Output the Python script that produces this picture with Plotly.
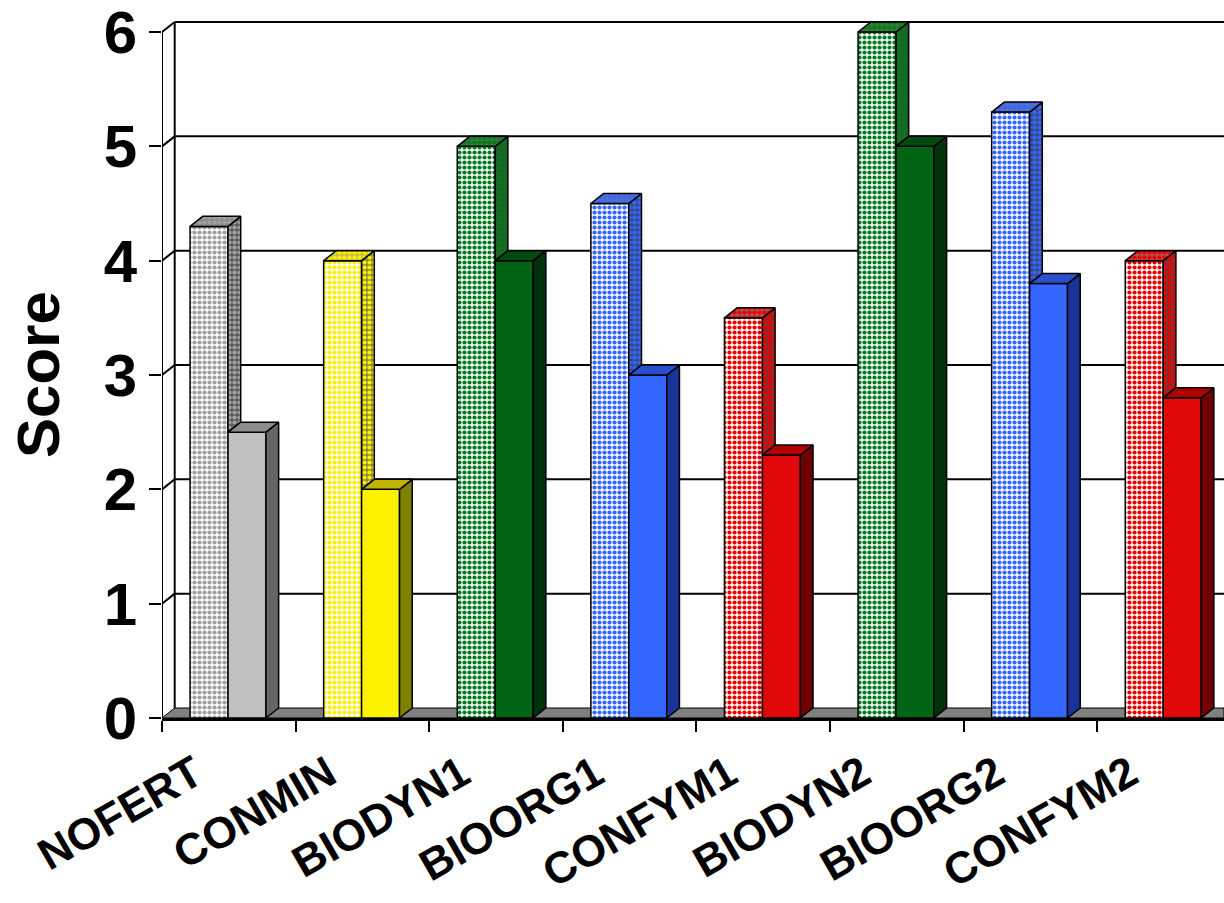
import plotly.graph_objects as go

# ---- data ----
categories = ["NOFERT", "CONMIN", "BIODYN1", "BIOORG1", "CONFYM1", "BIODYN2", "BIOORG2", "CONFYM2"]
series_pattern = [4.3, 4.0, 5.0, 4.5, 3.5, 6.0, 5.3, 4.0]   # checkered bars
series_solid = [2.5, 2.0, 4.0, 3.0, 2.3, 5.0, 3.8, 2.8]     # solid bars
y_ticks = [0, 1, 2, 3, 4, 5, 6]
y_title = "Score"

# ---- styles (per category) ----
palette = {
    "grey":   dict(pat="#a0a0a0", solid="#c0c0c0", side="#666666", top="#8c8c8c", pside="#5a5a5a", ptop="#8a8a8a"),
    "yellow": dict(pat="#ffee00", solid="#fff200", side="#808000", top="#c0b400", pside="#8a8a40", ptop="#c8c040"),
    "green":  dict(pat="#007a1e", solid="#006414", side="#00330a", top="#004a10", pside="#2a5a2a", ptop="#3a7a3a"),
    "blue":   dict(pat="#3366ff", solid="#3366ff", side="#1a3399", top="#2850cc", pside="#3a4a80", ptop="#5a70c0"),
    "red":    dict(pat="#e80000", solid="#e00808", side="#700000", top="#b00000", pside="#803030", ptop="#b05050"),
}
cat_colors = ["grey", "yellow", "green", "blue", "red", "green", "blue", "red"]

FONT = "Liberation Sans, Arial, sans-serif"
n = len(categories)
x_max = 7.949
bar_w = 0.284
off0 = 0.21
dx = 0.095          # depth offset in x (category units)
dy = 0.0875         # depth offset in y (score units)
PSIZE = 5
PSOL = 0.55

fig = go.Figure()

xa = [i + off0 + bar_w / 2 for i in range(n)]
xb = [i + off0 + 1.5 * bar_w for i in range(n)]

# front faces
fig.add_trace(go.Bar(
    x=xa, y=series_pattern, base=0, width=bar_w,
    marker=dict(color="white",
                line=dict(color="black", width=1.5),
                pattern=dict(shape=".", fgcolor=[palette[c]["pat"] for c in cat_colors],
                             bgcolor="white", size=PSIZE, solidity=PSOL, fillmode="replace")),
    hoverinfo="skip", showlegend=False))
fig.add_trace(go.Bar(
    x=xb, y=series_solid, base=0, width=bar_w,
    marker=dict(color=[palette[c]["solid"] for c in cat_colors],
                line=dict(color="black", width=1.5)),
    hoverinfo="skip", showlegend=False))


def poly(xs, ys, fill=None, pattern=None):
    kw = dict(x=xs + [xs[0]], y=ys + [ys[0]], mode="lines", fill="toself",
              line=dict(color="black", width=1.5), hoverinfo="skip", showlegend=False)
    if pattern is not None:
        kw["fillpattern"] = pattern
        kw["fillcolor"] = pattern["bgcolor"]
    else:
        kw["fillcolor"] = fill
    fig.add_trace(go.Scatter(**kw))


for i in range(n):
    p = palette[cat_colors[i]]
    va, vb = series_pattern[i], series_solid[i]
    a0 = i + off0
    a1 = a0 + bar_w
    b0 = a1
    b1 = b0 + bar_w
    # side of checkered bar (visible part above solid bar)
    poly([a1, a1 + dx, a1 + dx, a1], [vb, vb + dy, va + dy, va],
         pattern=dict(shape=".", fgcolor=p["pat"], bgcolor=p["pside"], size=PSIZE, solidity=PSOL, fillmode="replace"))
    # top of checkered bar
    poly([a0, a1, a1 + dx, a0 + dx], [va, va, va + dy, va + dy],
         pattern=dict(shape=".", fgcolor=p["pat"], bgcolor=p["ptop"], size=PSIZE, solidity=PSOL, fillmode="replace"))
    # side of solid bar
    poly([b1, b1 + dx, b1 + dx, b1], [0, dy, vb + dy, vb], fill=p["side"])
    # top of solid bar
    poly([b0, b1, b1 + dx, b0 + dx], [vb, vb, vb + dy, vb + dy], fill=p["top"])

shapes = []
# floor
shapes.append(dict(type="path", xref="x", yref="y", layer="below",
                   path=f"M 0 0 L {x_max} 0 L {x_max} {dy} L {dx} {dy} Z",
                   fillcolor="#808080", line=dict(color="black", width=1)))
# walls & gridlines
for k in y_ticks[1:]:
    shapes.append(dict(type="line", xref="x", yref="y", layer="below",
                       x0=0, y0=k, x1=dx, y1=k + dy, line=dict(color="black", width=2)))
    shapes.append(dict(type="line", xref="x", yref="y", layer="below",
                       x0=dx, y0=k + dy, x1=x_max, y1=k + dy, line=dict(color="black", width=2)))
shapes.append(dict(type="line", xref="x", yref="y", layer="below",
                   x0=dx, y0=dy, x1=dx, y1=y_ticks[-1] + dy, line=dict(color="black", width=2)))
shapes.append(dict(type="line", xref="x", yref="y", layer="below",
                   x0=0, y0=0, x1=0, y1=y_ticks[-1], line=dict(color="black", width=2)))

fig.update_layout(
    width=1224, height=903,
    margin=dict(l=162, r=0, t=0, b=185),
    paper_bgcolor="white", plot_bgcolor="white",
    barmode="overlay",
    shapes=shapes,
    font=dict(family=FONT, color="black"),
    xaxis=dict(range=[0, x_max], showgrid=False, zeroline=False, automargin=False,
               showline=True, linecolor="black", linewidth=3,
               tickmode="array", tickvals=[i + 0.5 for i in range(n)], ticktext=categories,
               tickangle=-30, ticks="outside", ticklen=0, tickcolor="black",
               ticklabelshift=-34, ticklabelstandoff=10, ticklabeloverflow="allow",
               tickfont=dict(family=FONT, size=44, weight="bold", color="black"),
               minor=dict(tickmode="array", tickvals=list(range(n)), ticks="outside",
                          ticklen=11, tickwidth=2, tickcolor="black")),
    yaxis=dict(range=[0, 6.28], showgrid=False, zeroline=False, showline=False, automargin=False,
               tickmode="array", tickvals=y_ticks, ticktext=[str(t) for t in y_ticks],
               ticks="outside", ticklen=12, tickwidth=2, tickcolor="black",
               ticklabeloverflow="allow",
               tickfont=dict(family=FONT, size=60, weight="bold", color="black")),
    annotations=[dict(text=y_title, xref="paper", yref="paper",
                      x=(38 - 162) / 1062, y=(718 - 375) / 718, xanchor="center", yanchor="middle",
                      textangle=-90, showarrow=False,
                      font=dict(family=FONT, size=60, weight="bold", color="black"))],
)

fig.write_html("out.html")
